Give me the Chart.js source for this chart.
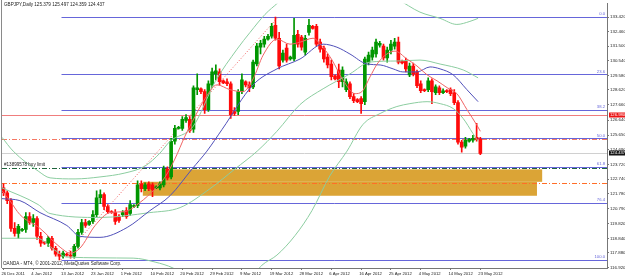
<!DOCTYPE html>
<html>
<head>
<meta charset="utf-8">
<title>GBPJPY Daily</title>
<script src="https://cdn.jsdelivr.net/npm/chart.js@4.4.0/dist/chart.umd.min.js"></script>
<style>
  html, body { margin: 0; padding: 0; background: #fff; overflow: hidden; }
  .box { position: relative; width: 625px; height: 277px; }
</style>
</head>
<body>
<div class="box"><canvas id="mt4-chart"></canvas></div>
<script>
// values (bar index = trading day, Sundays included)
const symbol = 'GBPJPY';
const period = 'Daily';
const dateLabels = ['26 Dec 2011', '4 Jan 2012', '13 Jan 2012', '23 Jan 2012', '1 Feb 2012', '10 Feb 2012',
  '20 Feb 2012', '29 Feb 2012', '9 Mar 2012', '19 Mar 2012', '28 Mar 2012', '6 Apr 2012', '16 Apr 2012',
  '25 Apr 2012', '4 May 2012', '14 May 2012', '23 May 2012'];
const labelStep = 8;

const opens = [122.17, 121.85, 121.33, 119.50, 119.17, 119.37, 119.43, 120.28, 119.89, 120.15,
  118.98, 118.59, 118.52, 118.85, 118.19, 117.80, 117.67, 117.80, 117.74, 117.67,
  118.32, 119.24, 119.89, 119.76, 119.96, 120.41, 121.52, 121.72, 120.94, 120.61,
  120.54, 120.28, 120.41, 120.67, 120.48, 120.94, 121.00, 122.44, 122.11, 122.44,
  122.37, 122.17, 122.17, 122.37, 123.41, 122.89, 125.24, 126.09, 126.09, 126.61,
  126.68, 126.03, 128.64, 128.70, 128.51, 127.33, 128.96, 129.68, 129.81, 129.22,
  129.16, 129.03, 127.20, 127.20, 128.51, 129.16, 128.96, 128.83, 130.33, 131.44,
  131.64, 131.97, 132.16, 132.88, 132.03, 130.59, 131.38, 130.66, 130.66, 132.29,
  132.10, 131.12, 132.42, 132.81, 132.81, 131.77, 131.38, 130.79, 130.33, 129.55,
  129.94, 129.16, 128.64, 129.03, 128.18, 127.98, 128.05, 127.85, 130.46, 130.79,
  130.99, 131.57, 131.51, 130.73, 131.25, 131.51, 131.77, 130.53, 130.53, 129.62,
  130.20, 129.81, 129.03, 128.64, 128.64, 129.22, 128.44, 128.77, 128.44, 128.57,
  128.64, 128.44, 127.79, 125.18, 124.92, 125.24, 125.31, 125.50, 125.379];
const highs = [122.44, 121.98, 121.46, 119.89, 119.76, 119.50, 120.54, 120.54, 120.41, 120.28,
  119.24, 118.65, 118.98, 118.98, 118.32, 118.00, 118.00, 117.87, 118.00, 118.45,
  119.43, 120.09, 120.09, 120.02, 120.67, 121.98, 122.04, 121.85, 121.07, 120.67,
  120.74, 120.41, 120.67, 120.87, 121.33, 121.07, 122.63, 122.63, 122.50, 122.57,
  122.50, 122.30, 122.57, 123.61, 123.55, 125.44, 126.29, 126.22, 126.87, 127.00,
  126.87, 128.90, 129.68, 128.77, 128.64, 129.22, 130.07, 130.27, 130.01, 129.29,
  129.35, 129.16, 127.46, 128.64, 129.68, 129.22, 129.16, 130.59, 131.70, 131.90,
  132.16, 132.29, 133.01, 133.42, 132.42, 131.25, 131.64, 130.86, 133.34, 132.55,
  132.23, 132.23, 133.27, 132.88, 132.94, 131.97, 131.51, 130.99, 130.59, 129.62,
  130.33, 130.14, 129.35, 129.16, 128.38, 128.05, 128.18, 130.79, 131.12, 131.44,
  131.97, 131.83, 131.64, 131.44, 131.90, 132.03, 132.10, 130.59, 130.73, 130.40,
  130.40, 129.94, 129.22, 128.70, 129.42, 129.35, 128.96, 128.90, 128.70, 128.64,
  128.77, 128.64, 127.92, 125.31, 125.50, 125.44, 125.63, 126.42, 125.497];
const lows = [121.65, 121.13, 119.30, 118.98, 118.85, 119.30, 119.24, 119.76, 119.63, 118.78,
  118.32, 118.45, 118.32, 118.06, 117.67, 117.43, 117.54, 117.67, 117.54, 117.54,
  118.19, 119.11, 119.56, 119.69, 119.83, 120.28, 121.13, 120.74, 120.48, 120.48,
  119.76, 119.89, 120.28, 120.15, 120.35, 120.87, 120.87, 121.91, 121.98, 121.98,
  121.59, 122.11, 122.04, 122.24, 122.70, 122.76, 125.05, 126.03, 125.96, 126.48,
  125.83, 125.83, 128.31, 128.38, 127.07, 127.20, 128.77, 129.29, 128.96, 129.03,
  128.90, 126.74, 126.94, 127.00, 128.38, 128.83, 128.51, 128.70, 130.20, 130.99,
  131.44, 131.90, 132.03, 131.90, 130.01, 130.46, 130.46, 130.59, 130.53, 131.44,
  131.25, 130.92, 132.23, 132.62, 131.51, 131.12, 130.46, 130.07, 129.29, 129.29,
  128.77, 128.83, 128.51, 128.05, 127.79, 127.79, 127.07, 127.66, 130.27, 130.59,
  130.79, 131.44, 130.59, 130.46, 130.99, 131.31, 130.33, 130.33, 129.81, 129.49,
  129.55, 128.77, 128.44, 128.51, 128.51, 127.72, 128.31, 128.31, 128.38, 128.44,
  128.24, 127.66, 125.05, 124.52, 124.79, 125.18, 125.18, 125.24, 124.359];
const closes = [121.85, 121.33, 119.50, 119.17, 119.63, 119.43, 120.28, 119.89, 120.15, 118.98,
  118.52, 118.52, 118.85, 118.19, 117.80, 117.67, 117.87, 117.74, 117.67, 118.32,
  119.24, 119.89, 119.69, 119.96, 120.41, 121.52, 121.72, 120.94, 120.61, 120.54,
  119.96, 120.02, 120.54, 120.28, 121.07, 121.00, 122.37, 122.11, 122.37, 122.11,
  122.04, 122.24, 122.44, 123.41, 122.83, 125.24, 126.09, 126.16, 126.68, 126.81,
  125.96, 128.77, 128.77, 128.51, 127.33, 129.03, 129.81, 129.88, 129.16, 129.09,
  129.03, 127.00, 127.07, 128.51, 129.29, 128.96, 128.77, 130.46, 131.51, 131.70,
  131.97, 132.16, 132.81, 132.03, 130.20, 131.05, 130.59, 130.79, 132.23, 131.64,
  131.44, 132.03, 132.88, 132.68, 131.64, 131.31, 130.66, 130.27, 129.49, 129.35,
  129.16, 129.94, 129.16, 128.18, 127.92, 127.85, 127.72, 130.66, 130.92, 131.25,
  131.77, 131.70, 130.73, 131.25, 131.64, 131.77, 130.46, 130.40, 130.01, 130.20,
  129.68, 128.90, 128.57, 128.57, 129.22, 128.51, 128.83, 128.44, 128.57, 128.51,
  128.38, 127.79, 125.18, 124.85, 125.31, 125.37, 125.44, 125.37, 124.437];

const priceTicks = [133.42, 132.46, 131.50, 130.54, 129.58, 128.62, 127.66, 126.64, 125.65,
  124.69, 123.72, 122.74, 121.78, 120.79, 119.82, 118.84, 117.88, 116.92];

// indicator curves, [bar, price]
const redMa = [[-0.4, 121.98], [1.7, 121.33], [4.4, 120.41], [9.8, 119.50], [15.2, 118.26], [17.9, 117.87],
  [20.5, 118.19], [24.6, 119.69], [28.6, 120.54], [32.6, 120.61], [36.6, 121.20], [40.7, 122.11],
  [43.4, 122.89], [46.0, 124.07], [48.7, 125.57], [51.4, 126.87], [54.1, 128.05], [57.3, 128.96],
  [60.8, 128.64], [64.3, 128.51], [67.0, 129.35], [69.7, 130.92], [73.4, 131.97], [76.9, 131.64],
  [79.6, 131.77], [83.1, 132.03], [85.5, 131.51], [88.2, 130.59], [91.1, 129.29], [94.4, 128.38],
  [96.2, 128.51], [98.4, 129.49], [100.3, 130.33], [102.9, 130.99], [105.1, 131.18], [108.3, 130.66],
  [111.0, 130.20], [113.7, 129.62], [116.4, 129.22], [119.1, 128.77], [121.7, 128.38], [124.4, 127.33],
  [127.1, 126.29], [128, 125.90]];
const blueMa = [[-0.4, 121.46], [4.4, 121.33], [9.8, 120.54], [17.0, 119.69], [20.5, 118.98], [25.9, 118.91],
  [33.2, 119.56], [39.3, 120.67], [44.7, 121.65], [50.6, 123.41], [54.6, 124.59], [58.7, 126.03],
  [67.0, 128.96], [73.4, 130.01], [79.6, 130.66], [85.8, 131.64], [89.5, 131.44], [93.0, 130.99],
  [97.6, 130.33], [101.1, 130.27], [104.6, 130.01], [107.2, 129.81], [111.0, 129.81], [114.5, 130.14],
  [117.2, 130.01], [120.7, 129.62], [124.4, 128.64], [127.4, 127.85]];
const bandUpper = [[-0.4, 125.50], [2.6, 124.59], [9.3, 123.28], [12.5, 122.83], [19.2, 122.76], [25.9, 122.89],
  [32.6, 123.15], [38.0, 123.61], [42.0, 124.46], [44.7, 125.24], [50.9, 126.22], [56.8, 129.16],
  [62.7, 131.31], [66.2, 132.42], [70.2, 133.60], [73.7, 134.38], [79.6, 135.82], [86.3, 135.90],
  [93.0, 135.60], [98.4, 135.20], [105.6, 134.60], [111.8, 133.75], [117.2, 133.34], [121.7, 132.94],
  [125.2, 133.14], [127.4, 133.34]];
const bandMid = [[-0.4, 122.17], [9.3, 121.07], [12.5, 120.48], [25.9, 120.22], [39.3, 120.54], [47.4, 120.87],
  [55.4, 122.11], [62.1, 123.41], [68.1, 124.59], [73.4, 125.90], [79.6, 127.66], [85.8, 128.70],
  [93.0, 129.68], [98.4, 130.46], [105.6, 130.53], [111.8, 130.59], [117.2, 130.33], [123.4, 129.94],
  [127.4, 129.42]];
const bandLower = [[-0.4, 118.85], [9.0, 118.85], [13.8, 118.06], [17.0, 117.61], [34.8, 117.54], [40.7, 117.28],
  [45.5, 116.89], [52.7, 115.78], [63.5, 115.45], [69.4, 117.08], [73.4, 117.74], [78.3, 119.04],
  [82.8, 120.67], [87.6, 122.96], [92.2, 124.59], [96.5, 126.35], [101.1, 127.07], [105.6, 127.53],
  [109.1, 127.72], [113.7, 127.85], [117.2, 127.72], [120.7, 127.40], [123.4, 126.74], [126.0, 125.76],
  [127.4, 125.24]];

// objects on the chart
const fibLow = [15.4, 117.43];
const fibHigh = [73.7, 133.42];
const fibLevels = [0, 23.6, 38.2, 50, 61.8, 76.4, 100];
const zones = [[43.4, 144.6, 123.39, 122.57], [37.4, 143.2, 122.57, 121.65]];
const hLinePrice = 126.98;
const bidPrice = 124.437;
const orderPrices = [125.40, 123.50, 122.52];
const orderNote = '#13899578 buy limit';
const copyright = 'OANDA - MT4, \u00a9 2001-2012, MetaQuotes Software Corp.';

// styles
const font = 'Liberation Sans';
const bull = 'rgb(0,150,0)';
const bear = 'rgb(255,10,10)';
const fibColor = 'rgb(102,102,218)';
const orderColors = ['rgb(245,120,100)', 'rgb(30,100,60)', 'rgb(255,110,40)'];

const last = closes.length - 1;
const candleColors = opens.map((o, i) => closes[i] >= o ? bull : bear);
const pts = arr => arr.map(([b, p]) => ({x: b, y: p}));
const fibPrice = lvl => fibHigh[1] - (fibHigh[1] - fibLow[1]) * lvl / 100;

const lineSet = (label, arr, color, order) => ({
  type: 'line', label, data: pts(arr), borderColor: color, borderWidth: 1,
  pointRadius: 0, cubicInterpolationMode: 'monotone', order
});

const mt4Objects = {
  id: 'mt4Objects',
  beforeDatasetsDraw(chart) {
    const {ctx, chartArea: a, scales: {x, y}} = chart;
    const py = v => Math.round(y.getPixelForValue(v)) + 0.5;
    const hline = (price, color, dash, from) => {
      ctx.strokeStyle = color;
      ctx.setLineDash(dash);
      ctx.beginPath();
      ctx.moveTo(from, py(price));
      ctx.lineTo(a.right, py(price));
      ctx.stroke();
    };
    ctx.save();
    ctx.beginPath();
    ctx.rect(a.left, a.top, a.right - a.left, a.bottom - a.top);
    ctx.clip();

    ctx.fillStyle = 'rgb(219,164,54)';
    zones.forEach(([b0, b1, p0, p1]) => {
      const x0 = x.getPixelForValue(b0), x1 = x.getPixelForValue(b1);
      const y0 = y.getPixelForValue(p0), y1 = y.getPixelForValue(p1);
      ctx.fillRect(x0, y0, x1 - x0, y1 - y0);
    });

    ctx.lineWidth = 1;
    hline(bidPrice, 'rgb(208,208,208)', [], a.left);
    hline(hLinePrice, 'rgb(240,125,125)', [], a.left);

    const fibX = Math.round(x.getPixelForValue(fibLow[0])) + 0.5;
    fibLevels.forEach(l => hline(fibPrice(l), fibColor, [], fibX));
    orderPrices.forEach((p, i) => hline(p, orderColors[i], [5, 2, 1, 2], a.left));

    // fibo trend line
    ctx.strokeStyle = 'rgb(240,90,90)';
    ctx.setLineDash([1, 2]);
    ctx.beginPath();
    ctx.moveTo(x.getPixelForValue(fibLow[0]), y.getPixelForValue(fibLow[1]));
    ctx.lineTo(x.getPixelForValue(fibHigh[0]), y.getPixelForValue(fibHigh[1]));
    ctx.stroke();
    ctx.restore();
  },
  afterDraw(chart) {
    const {ctx, chartArea: a, scales: {y}} = chart;
    ctx.save();
    ctx.strokeStyle = '#8a8a8a';
    ctx.lineWidth = 1;
    ctx.beginPath();
    ctx.moveTo(1.5, 0);
    ctx.lineTo(1.5, a.bottom);
    ctx.stroke();

    ctx.textBaseline = 'middle';
    ctx.fillStyle = '#222';
    ctx.font = `4.6px "${font}"`;
    ctx.fillText(`${symbol},${period} ${opens[last].toFixed(3)} ${highs[last].toFixed(3)} ` +
      `${lows[last].toFixed(3)} ${closes[last].toFixed(3)}`, 4, 5);
    ctx.fillText(copyright, 3, 264);
    ctx.fillText(orderNote, 4, y.getPixelForValue(orderPrices[1]) - 3);

    ctx.fillStyle = fibColor;
    ctx.textAlign = 'right';
    ctx.font = `4.2px "${font}"`;
    fibLevels.forEach(l => ctx.fillText(l.toFixed(1), a.right - 2, y.getPixelForValue(fibPrice(l)) - 3));

    // price tags on the axis
    ctx.textAlign = 'left';
    [[hLinePrice, 'rgb(235,20,20)'], [bidPrice, 'rgb(20,20,20)']].forEach(([p, bg]) => {
      const yy = Math.round(y.getPixelForValue(p));
      ctx.fillStyle = bg;
      ctx.fillRect(a.right + 2, yy - 2.5, 18, 5);
      ctx.fillStyle = '#fff';
      ctx.fillText(p.toFixed(3), a.right + 3, yy);
    });
    ctx.restore();
  }
};

new Chart(document.getElementById('mt4-chart'), {
  type: 'bar',
  data: {
    datasets: [
      lineSet('MA fast', redMa, 'rgb(240,100,100)', 0),
      lineSet('MA slow', blueMa, 'rgb(80,80,185)', 0),
      lineSet('BB upper', bandUpper, 'rgb(140,205,160)', 1),
      lineSet('BB mid', bandMid, 'rgb(140,205,160)', 1),
      lineSet('BB lower', bandLower, 'rgb(140,205,160)', 1),
      {
        label: 'body', data: opens.map((o, i) => ({x: i, y: [o, closes[i]]})),
        backgroundColor: candleColors, barThickness: 3, minBarLength: 1, grouped: false, order: 2
      },
      {
        label: 'wick', data: opens.map((o, i) => ({x: i, y: [lows[i], highs[i]]})),
        backgroundColor: candleColors, barThickness: 1, grouped: false, order: 3
      }
    ]
  },
  options: {
    responsive: true,
    maintainAspectRatio: false,
    devicePixelRatio: 1,
    animation: false,
    events: [],
    layout: {padding: {left: 2, top: 1, right: 0, bottom: 0}},
    plugins: {legend: {display: false}, tooltip: {enabled: false}},
    scales: {
      x: {
        type: 'linear', min: -0.4, max: 162.0, offset: false,
        afterBuildTicks: s => { s.ticks = dateLabels.map((d, i) => ({value: i * labelStep})); },
        afterFit: s => { s.height = 9; },
        grid: {drawOnChartArea: false, offset: false, tickLength: 2, color: '#777'},
        border: {color: '#777'},
        ticks: {
          autoSkip: false, maxRotation: 0, align: 'start', labelOffset: -2, padding: 1,
          color: '#222', font: {family: font, size: 4.2},
          callback: (v, i) => dateLabels[i]
        }
      },
      y: {
        position: 'right', min: 116.89, max: 134.31,
        afterBuildTicks: s => { s.ticks = priceTicks.map(v => ({value: v})); },
        afterFit: s => { s.width = 18; },
        grid: {drawOnChartArea: false, tickLength: 2, color: '#777'},
        border: {color: '#777'},
        ticks: {
          autoSkip: false, padding: 1, color: '#222', font: {family: font, size: 4.4},
          callback: v => v.toFixed(3)
        }
      }
    }
  },
  plugins: [mt4Objects]
});
</script>
</body>
</html>
